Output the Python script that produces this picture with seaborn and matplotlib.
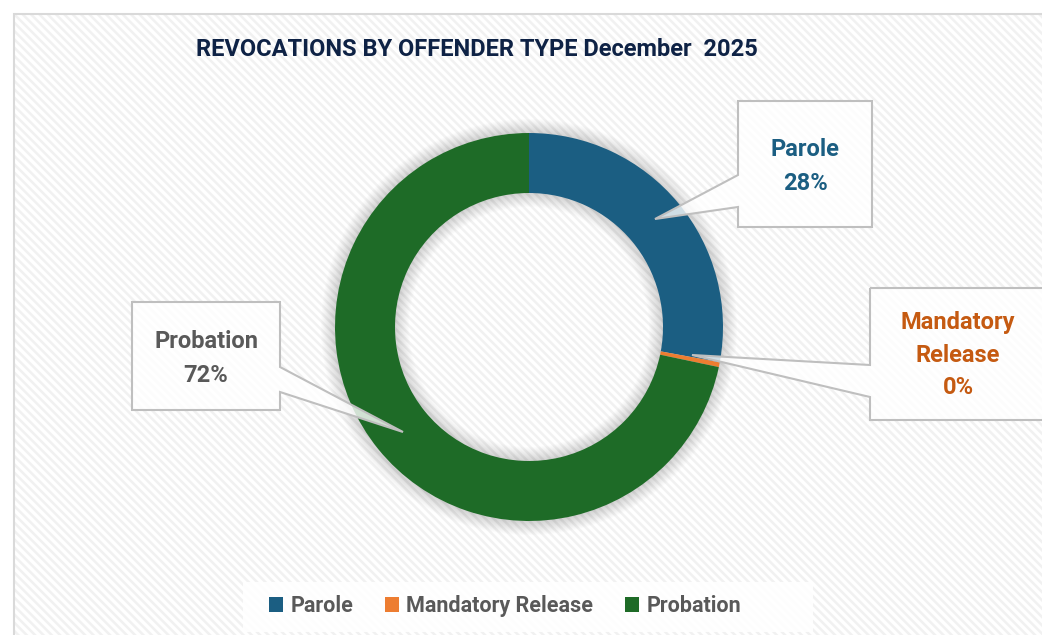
import numpy as np
import matplotlib
matplotlib.use('Agg')
import matplotlib.pyplot as plt
import seaborn as sns
from matplotlib.patches import Rectangle, Polygon, Wedge

# ---- data ----
categories = ['Parole', 'Mandatory Release', 'Probation']
values = [139, 2, 357]
colors = ['#1B5E82', '#ED7D31', '#1E6B27']
label_colors = ['#1B5E82', '#C55A11', '#595959']
callout_lines = [['Parole'], ['Mandatory', 'Release'], ['Probation']]
title = 'REVOCATIONS BY OFFENDER TYPE December  2025'

sns.set_theme(style='white')
plt.rcParams['font.family'] = ['Roboto', 'DejaVu Sans']
plt.rcParams['hatch.linewidth'] = 1.8

W, H = 1042, 635
fig = plt.figure(figsize=(W / 100, H / 100), dpi=100)
fig.patch.set_facecolor('white')
ax = fig.add_axes([0, 0, 1, 1])


def Y(y):
    return H - y


# background with diagonal stripes
ax.add_patch(Rectangle((14, -20), 1100, Y(14) + 20, facecolor='white',
                       edgecolor='#f1f1f1', linewidth=0, hatch='\\\\\\\\', zorder=0))
ax.add_patch(Rectangle((14, -20), 1100, Y(14) + 20, fill=False,
                       edgecolor='#d9d9d9', linewidth=1.5, zorder=0.1))

cx, cy, R, ring = 529, Y(327), 194, 60

# soft shadow around ring
for k in range(1, 15):
    ax.add_patch(Wedge((cx, cy), R + k, 0, 360, width=ring + 2 * k,
                       facecolor='black', edgecolor='none', alpha=0.013, zorder=0.5))

wedges, _ = ax.pie(values, colors=colors, startangle=90, counterclock=False,
                   radius=R, center=(cx, cy), frame=True,
                   wedgeprops=dict(width=ring, edgecolor='none'))
for w in wedges:
    w.set_zorder(2)

total = sum(values)
pcts = [f"{round(v / total * 100)}%" for v in values]

# callouts (box + pointer), pixel coordinates
callouts = [
    dict(box=(738, 101, 872, 227), side='left', base=(175, 207), tip=(655, 219), cx=805, ys=[149, 183]),
    dict(box=(870, 288, 1046, 420), side='left', base=(365, 397), tip=(692, 355), cx=958, ys=[323, 355, 387]),
    dict(box=(132, 302, 280, 410), side='right', base=(367, 392), tip=(403, 432), cx=206, ys=[341, 375]),
]
for i, c in enumerate(callouts):
    x0, y0, x1, y1 = c['box']
    b0, b1 = c['base']
    tx, ty = c['tip']
    if c['side'] == 'left':
        pts = [(x0, y0), (x1, y0), (x1, y1), (x0, y1), (x0, b1), (tx, ty), (x0, b0)]
    else:
        pts = [(x0, y0), (x1, y0), (x1, b0), (tx, ty), (x1, b1), (x1, y1), (x0, y1)]
    pts = [(px, Y(py)) for px, py in pts]
    ax.add_patch(Polygon(pts, closed=True, facecolor='white', alpha=0.8,
                         edgecolor='none', zorder=3))
    ax.add_patch(Polygon(pts, closed=True, fill=False, edgecolor='#bfbfbf',
                         linewidth=1.5, zorder=3.1))
    lines = callout_lines[i] + [pcts[i]]
    for txt, yy in zip(lines, c['ys']):
        ax.text(c['cx'], Y(yy), txt, ha='center', va='center', fontsize=17,
                fontweight='bold', color=label_colors[i], zorder=4)

ax.text(477, Y(50), title, ha='center', va='center', fontsize=17,
        fontweight='bold', color='#0E2245')

# legend area panel
ax.add_patch(Rectangle((243, Y(632)), 570, 50, facecolor='white', alpha=0.9,
                       edgecolor='none', zorder=3))
leg = ax.legend(wedges, categories, ncol=3, loc='center',
                bbox_to_anchor=(505 / W, 1 - 606 / H), frameon=False,
                prop=dict(size=15.5, weight='semibold'),
                handlelength=0.65, handleheight=0.65, handletextpad=0.35,
                columnspacing=1.45, borderpad=0.5)
for t in leg.get_texts():
    t.set_color('#595959')

ax.set_xlim(0, W)
ax.set_ylim(0, H)
ax.set_aspect('equal')
ax.axis('off')

fig.savefig('out.png', dpi=100)
